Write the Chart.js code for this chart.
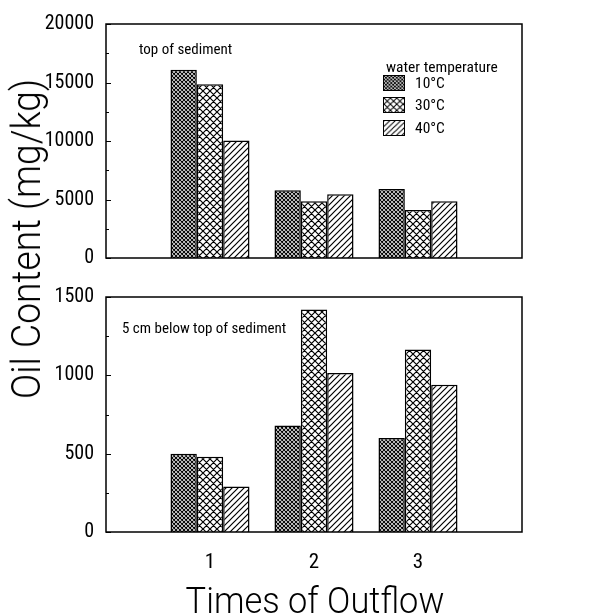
<!DOCTYPE html>
<html>
<head>
<meta charset="utf-8">
<script src="https://cdn.jsdelivr.net/npm/chart.js@4.4.1/dist/chart.umd.min.js"></script>
<style>
  body { margin: 0; background: #fff; width: 615px; height: 616px; position: relative; overflow: hidden; }
  .box { position: absolute; }
  .txt { position: absolute; color: #000; white-space: nowrap; font-family: "Liberation Sans Narrow", "Roboto Condensed", "DejaVu Sans Condensed", sans-serif; }
  .big { position: absolute; color: #000; white-space: nowrap; font-family: Roboto, "Open Sans", sans-serif; font-weight: 300; line-height: 1; }
  .legbox { position: absolute; border: 1.5px solid #000; box-sizing: border-box; }
</style>
</head>
<body>
<div class="box" style="left:0;top:0;width:615px;height:283px;"><canvas id="topChart"></canvas></div>
<div class="box" style="left:0;top:270px;width:615px;height:346px;"><canvas id="bottomChart"></canvas></div>

<div class="big" id="yTitle" style="left:27px;top:239px;font-size:40px;transform:translate(-50%,-50%) rotate(-90deg) scaleX(0.93);">Oil Content (mg/kg)</div>
<div class="big" id="xTitle" style="left:315px;top:600px;font-size:37px;transform:translate(-50%,-50%) scaleX(0.93);">Times of Outflow</div>

<div class="txt" style="left:139px;top:40px;font-size:15px;">top of sediment</div>
<div class="txt" style="left:122px;top:319px;font-size:15px;">5 cm below top of sediment</div>

<div class="txt" style="left:386px;top:58px;font-size:15.5px;">water temperature</div>
<canvas class="legbox" id="leg0" width="22" height="16" style="left:383px;top:75px;width:22px;height:16px;"></canvas>
<canvas class="legbox" id="leg1" width="22" height="16" style="left:383px;top:97px;width:22px;height:16px;"></canvas>
<canvas class="legbox" id="leg2" width="22" height="16" style="left:383px;top:120px;width:22px;height:16px;"></canvas>
<div class="txt" style="left:415px;top:74px;font-size:15.5px;">10°C</div>
<div class="txt" style="left:415px;top:96px;font-size:15.5px;">30°C</div>
<div class="txt" style="left:415px;top:119px;font-size:15.5px;">40°C</div>

<script>
// categories: 0 and 4 are empty slots so the axis runs from 0 to 4
var categories = ['0', '1', '2', '3', '4'];
var seriesNames = ['10°C', '30°C', '40°C'];

// top of sediment (mg/kg)
var top10 = [16100, 5800, 5900];
var top30 = [14850, 4850, 4100];
var top40 = [10050, 5450, 4850];

// 5 cm below top of sediment (mg/kg)
var bot10 = [500, 680, 600];
var bot30 = [480, 1420, 1165];
var bot40 = [290, 1015, 940];

var topTicks = [0, 5000, 10000, 15000, 20000];
var botTicks = [0, 500, 1000, 1500];

var TICK_FONT = '"Liberation Sans Narrow", "Roboto Condensed", "DejaVu Sans Condensed", sans-serif';

function makePattern(kind) {
    var s = kind === 'fine' ? 4 : (kind === 'coarse' ? 7 : 6);
    var c = document.createElement('canvas');
    c.width = s; c.height = s;
    var g = c.getContext('2d');
    g.fillStyle = '#fff';
    g.fillRect(0, 0, s, s);
    g.strokeStyle = '#000';
    g.lineWidth = kind === 'fine' ? 1.1 : 1.2;
    g.beginPath();
    // "/" direction
    g.moveTo(-1, s + 1); g.lineTo(s + 1, -1);
    g.moveTo(-1, 1); g.lineTo(1, -1);
    g.moveTo(s - 1, s + 1); g.lineTo(s + 1, s - 1);
    if (kind !== 'hatch') {
        // "\" direction
        g.moveTo(-1, -1); g.lineTo(s + 1, s + 1);
        g.moveTo(s - 1, -1); g.lineTo(s + 1, 1);
        g.moveTo(-1, s - 1); g.lineTo(1, s + 1);
    }
    g.stroke();
    return g.createPattern(c, 'repeat');
}

var fills = [makePattern('fine'), makePattern('coarse'), makePattern('hatch')];

['leg0', 'leg1', 'leg2'].forEach(function (id, i) {
    var g = document.getElementById(id).getContext('2d');
    g.fillStyle = fills[i];
    g.fillRect(0, 0, 22, 16);
});

function pad(vals) {
    return [null].concat(vals).concat([null]);
}

function makeSets(a, b, c) {
    return [a, b, c].map(function (vals, i) {
        return {
            label: seriesNames[i],
            data: pad(vals),
            backgroundColor: fills[i],
            borderColor: '#000',
            borderWidth: 1.5,
            barPercentage: 1,
            categoryPercentage: 0.76,
        };
    });
}

// frame round the plot area plus small inward ticks on the left axis
var framePlugin = {
    id: 'frame',
    afterDraw: function (chart) {
        var a = chart.chartArea, ctx = chart.ctx, y = chart.scales.y;
        ctx.save();
        ctx.strokeStyle = '#000';
        ctx.lineWidth = 1.5;
        ctx.strokeRect(a.left, a.top, a.right - a.left, a.bottom - a.top);
        ctx.lineWidth = 1;
        var step = y.options.ticks.stepSize / 2;
        for (var v = y.min; v <= y.max; v += step) {
            var py = Math.round(y.getPixelForValue(v)) + 0.5;
            var len = (v / step) % 2 === 0 ? 5 : 3;
            ctx.beginPath();
            ctx.moveTo(a.left, py);
            ctx.lineTo(a.left + len, py);
            ctx.stroke();
        }
        ctx.restore();
    }
};

function options(maxY, stepY, showLabels, xHeight, padTop) {
    return {
        responsive: true,
        maintainAspectRatio: false,
        animation: false,
        layout: { padding: { top: padTop, right: 93, bottom: 0, left: 0 } },
        plugins: {
            legend: { display: false },
            tooltip: { enabled: false },
        },
        scales: {
            x: {
                offset: false,
                grid: { display: false },
                border: { display: false },
                ticks: {
                    display: showLabels,
                    color: '#000',
                    padding: 10,
                    maxRotation: 0,
                    autoSkip: false,
                    font: { family: TICK_FONT, size: 21 },
                    callback: function (value, index) {
                        var l = categories[index];
                        return (l === '0' || l === '4') ? '' : l;
                    },
                },
                afterFit: function (scale) { scale.height = xHeight; },
            },
            y: {
                min: 0,
                max: maxY,
                grid: { display: false, drawTicks: false },
                border: { display: false },
                ticks: {
                    stepSize: stepY,
                    color: '#000',
                    padding: 12,
                    font: { family: TICK_FONT, size: 20 },
                    callback: function (value) { return String(value); },
                },
                afterFit: function (scale) { scale.width = 106; },
            },
        },
    };
}

new Chart(document.getElementById('topChart'), {
    type: 'bar',
    data: { labels: categories, datasets: makeSets(top10, top30, top40) },
    options: options(topTicks[topTicks.length - 1], topTicks[1], false, 25, 24),
    plugins: [framePlugin],
});

new Chart(document.getElementById('bottomChart'), {
    type: 'bar',
    data: { labels: categories, datasets: makeSets(bot10, bot30, bot40) },
    options: options(botTicks[botTicks.length - 1], botTicks[1], true, 84, 27),
    plugins: [framePlugin],
});
</script>
</body>
</html>
